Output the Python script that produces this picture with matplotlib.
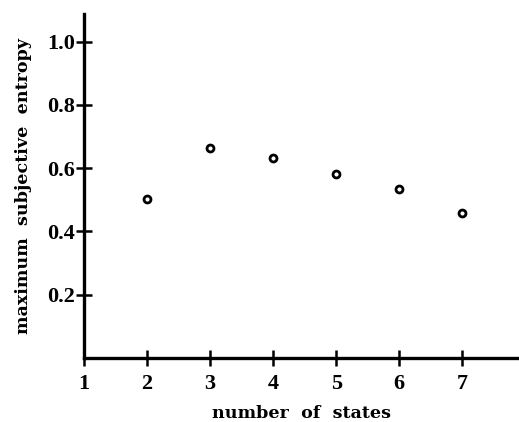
import matplotlib.pyplot as plt

# data
states = [2, 3, 4, 5, 6, 7]
entropy = [0.501, 0.662, 0.631, 0.581, 0.534, 0.457]
x_ticks = [1, 2, 3, 4, 5, 6, 7]
y_ticks = [0.2, 0.4, 0.6, 0.8, 1.0]

plt.rcParams["font.family"] = "Liberation Serif"
plt.rcParams["font.weight"] = "bold"

fig = plt.figure(figsize=(5.19, 4.22), dpi=100)
ax = fig.add_axes([84 / 519, 1 - 358 / 422, 1 - 84 / 519, (358 - 14) / 422])

ax.plot(states, entropy, "o", markersize=5, markerfacecolor="white",
        markeredgecolor="black", markeredgewidth=2.0, clip_on=False)

ax.set_xlim(1, 7.9)
ax.set_ylim(0, 1.087)
ax.set_xticks(x_ticks)
ax.set_xticklabels([str(v) for v in x_ticks])
ax.set_yticks(y_ticks)
ax.set_yticklabels([f"{v:.1f}" for v in y_ticks])

for side in ["top", "right"]:
    ax.spines[side].set_visible(False)
for side in ["left", "bottom"]:
    ax.spines[side].set_linewidth(2.4)

ax.tick_params(axis="both", direction="inout", length=11, width=1.8,
               labelsize=16, pad=6)
ax.tick_params(axis="y", pad=1)

label_font = dict(family="DejaVu Serif", fontsize=12.6, fontweight="bold")
ax.set_xlabel("number  of  states", labelpad=8, **label_font)
ax.set_ylabel("maximum  subjective  entropy", labelpad=11, **label_font)

fig.savefig("out.png", dpi=100)
